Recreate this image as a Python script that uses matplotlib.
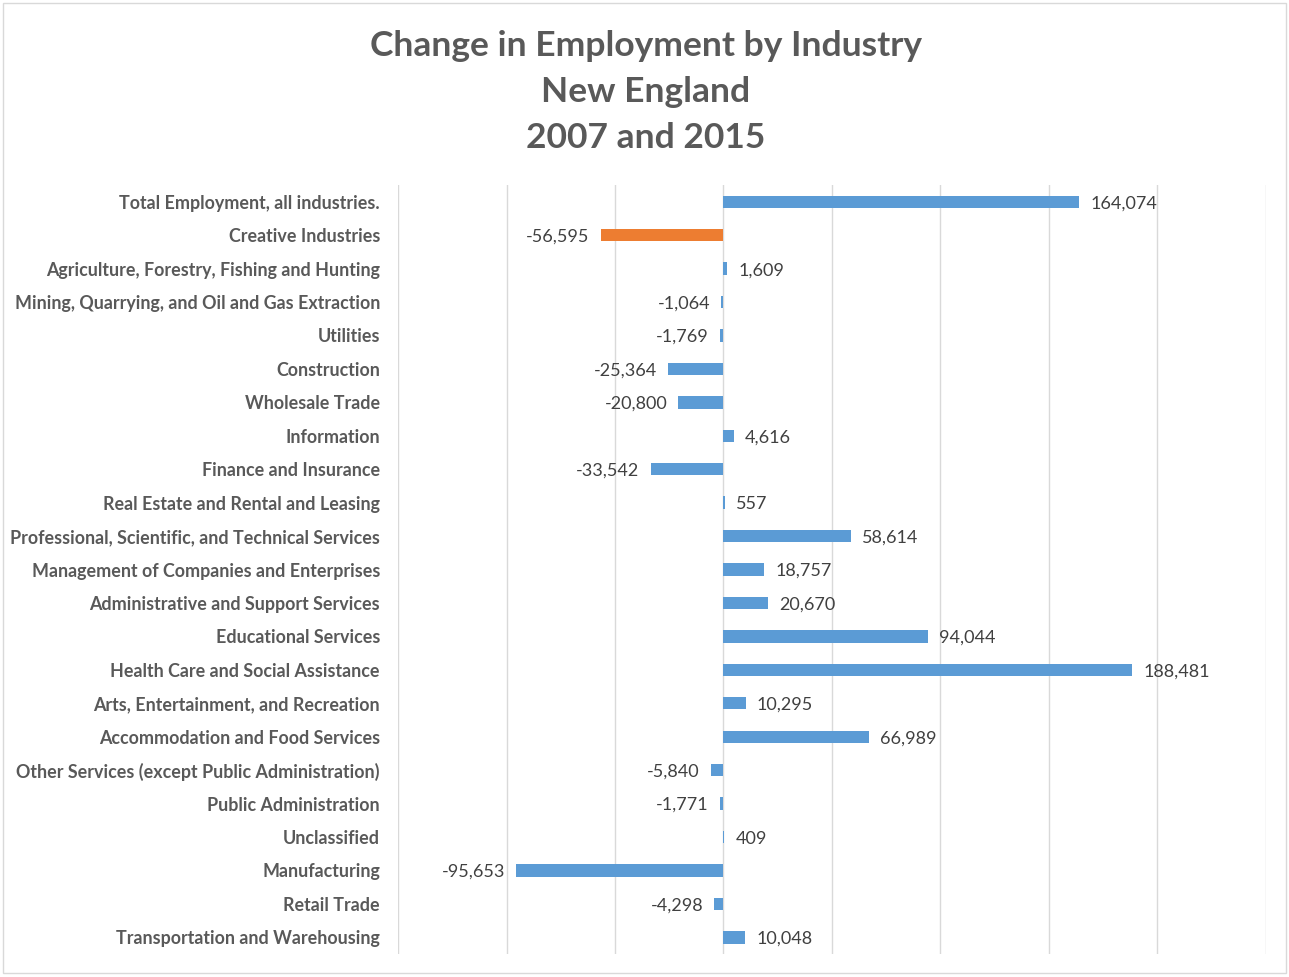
import matplotlib.pyplot as plt
from matplotlib.patches import Rectangle

# Зміна зайнятості за галузями, Нова Англія, 2007 і 2015
industries = [
    "Total Employment, all industries.",
    "Creative Industries",
    "Agriculture, Forestry, Fishing and Hunting",
    "Mining, Quarrying, and Oil and Gas Extraction",
    "Utilities",
    "Construction",
    "Wholesale Trade",
    "Information",
    "Finance and Insurance",
    "Real Estate and Rental and Leasing",
    "Professional, Scientific, and Technical Services",
    "Management of Companies and Enterprises",
    "Administrative and Support Services",
    "Educational Services",
    "Health Care and Social Assistance",
    "Arts, Entertainment, and Recreation",
    "Accommodation and Food Services",
    "Other Services (except Public Administration)",
    "Public Administration",
    "Unclassified",
    "Manufacturing",
    "Retail Trade",
    "Transportation and Warehousing",
]
changes = [164074, -56595, 1609, -1064, -1769, -25364, -20800, 4616, -33542,
           557, 58614, 18757, 20670, 94044, 188481, 10295, 66989, -5840,
           -1771, 409, -95653, -4298, 10048]
highlight = "Creative Industries"

plt.rcParams['font.family'] = ['Lato', 'DejaVu Sans']

fig = plt.figure(figsize=(12.89, 9.77), dpi=100)
ax = fig.add_axes([0.3088, 0.0235, 0.6733, 0.7871])

pos = list(range(len(industries)))
colors = ['#ED7D31' if name == highlight else '#5B9BD5' for name in industries]
ax.barh(pos, changes, height=0.37, color=colors, linewidth=0, zorder=3)

for y, v in zip(pos, changes):
    ax.annotate(f"{v:,}", (v, y), xytext=(8 if v >= 0 else -8, 0),
                textcoords='offset points', ha='left' if v >= 0 else 'right',
                va='center_baseline', fontsize=13, color='#404040')

ax.set_xlim(-150000, 250000)
ax.set_ylim(len(industries) - 0.5, -0.5)
ax.set_xticks(range(-150000, 250001, 50000))
ax.xaxis.grid(True, color='#D9D9D9', linewidth=1, zorder=0)
ax.tick_params(axis='x', length=0, labelbottom=False)
ax.set_yticks(pos)
ax.set_yticklabels(industries, fontsize=12.9, fontweight='bold', color='#595959')
ax.tick_params(axis='y', length=0, pad=13)
for s in ax.spines.values():
    s.set_visible(False)

fig.text(0.501, 0.906, "Change in Employment by Industry\nNew England\n2007 and 2015",
         ha='center', va='center', fontsize=25.5, fontweight='bold', color='#595959',
         linespacing=1.55)

# рамка навколо всього рисунка
fig.patches.append(Rectangle((0.002, 0.004), 0.996, 0.993, transform=fig.transFigure,
                             fill=False, edgecolor='#D9D9D9', linewidth=1))

fig.savefig('out.png', dpi=100)
